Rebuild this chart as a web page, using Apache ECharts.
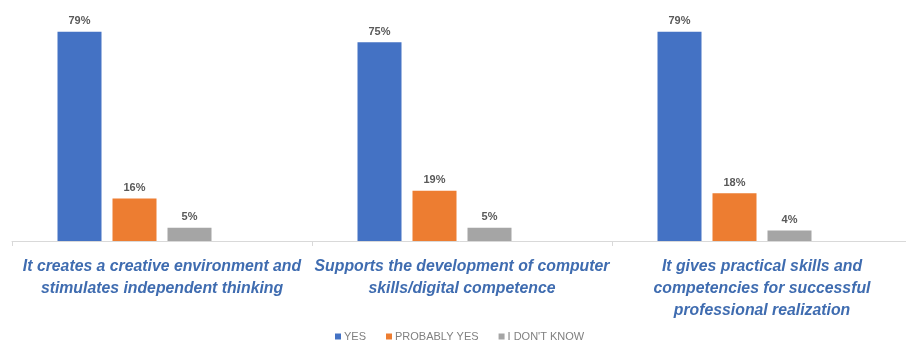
<!DOCTYPE html>
<html>
<head>
<meta charset="utf-8">
<script src="https://cdn.jsdelivr.net/npm/echarts@6/dist/echarts.min.js"></script>
<style>html,body{margin:0;padding:0;background:#fff}#c{width:906px;height:342px}</style>
</head>
<body>
<div id="c"></div>
<script>
const categories = [
  "It creates a creative environment and\nstimulates independent thinking",
  "Supports the development of computer\nskills/digital competence",
  "It gives practical skills and\ncompetencies for successful\nprofessional realization"
];
const seriesNames = ["YES", "PROBABLY YES", "I DON'T KNOW"];
const yesValues = [79, 75, 79];
const probablyYesValues = [16, 19, 18];
const dontKnowValues = [5, 5, 4];
const emptyValues = [null, null, null];

const colors = ["#4472C4", "#ED7D31", "#A5A5A5"];
const valueSets = [yesValues, probablyYesValues, dontKnowValues];

const chart = echarts.init(document.getElementById('c'), null, {renderer: 'canvas'});
const series = valueSets.map((vals, i) => ({
  name: seriesNames[i],
  type: 'bar',
  data: vals,
  barWidth: 44,
  barGap: '25%',
  itemStyle: {color: colors[i]},
  label: {
    show: true, position: 'top', distance: 5,
    formatter: '{c}%',
    color: '#595959', fontSize: 11, fontWeight: 'bold',
    fontFamily: 'Liberation Sans, sans-serif'
  }
}));
series.push({name: 'spacer', type: 'bar', data: emptyValues, barWidth: 44, itemStyle: {color: 'transparent'}});

chart.setOption({
  animation: false,
  grid: {left: 12, width: 900, top: 29, height: 212, containLabel: false, outerBoundsMode: 'none'},
  legend: {
    data: seriesNames,
    top: 331, left: 335, padding: 0,
    itemWidth: 6, itemHeight: 6, itemGap: 20,
    icon: 'rect',
    textStyle: {color: '#808080', fontSize: 11, fontFamily: 'Liberation Sans, sans-serif', padding: [0,0,0,-2]}
  },
  xAxis: {
    type: 'category',
    data: categories,
    axisLine: {lineStyle: {color: '#d9d9d9', width: 1}},
    axisTick: {show: true, length: 5, lineStyle: {color: '#d9d9d9'}},
    axisLabel: {
      interval: 0, margin: 15,
      color: '#3F6CB0', fontSize: 15.8, fontWeight: 'bold', fontStyle: 'italic',
      lineHeight: 22,
      fontFamily: 'Liberation Sans, sans-serif'
    }
  },
  yAxis: {
    type: 'value', min: 0, max: 80, show: false,
    splitLine: {show: false}
  },
  series: series
});
</script>
</body>
</html>
